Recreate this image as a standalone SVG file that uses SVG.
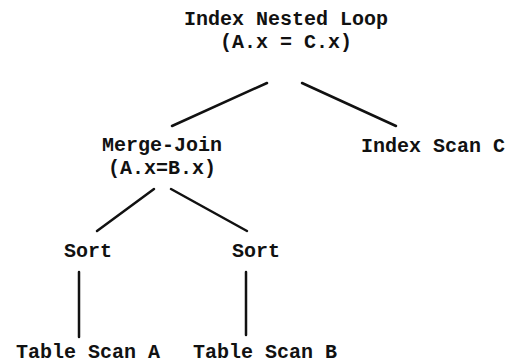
<svg xmlns="http://www.w3.org/2000/svg" width="532" height="364" viewBox="0 0 532 364">
<style>
text{font-family:"Liberation Mono","Courier New",monospace;font-size:20px;font-weight:bold;fill:#111;text-anchor:middle}
.c line{stroke:#111;stroke-width:2.5;stroke-linecap:round}
</style>
<rect width="532" height="364" fill="#fff"/>
<g class="c" id="connectors">
<line x1="267" y1="83" x2="172" y2="126"/>
<line x1="302" y1="83" x2="396" y2="126"/>
<line x1="154" y1="189" x2="97" y2="231"/>
<line x1="171" y1="189" x2="247" y2="231"/>
<line x1="79" y1="272" x2="79" y2="337"/>
<line x1="246" y1="272" x2="246" y2="335"/>
</g>
<g id="inl"><text x="286" y="25">Index Nested Loop</text><text x="286" y="48">(A.x = C.x)</text></g>
<g id="mj"><text x="162" y="151">Merge-Join</text><text x="162" y="174">(A.x=B.x)</text></g>
<g id="isc"><text x="433" y="152">Index Scan C</text></g>
<g id="sort1"><text x="88" y="257">Sort</text></g>
<g id="sort2"><text x="256" y="257">Sort</text></g>
<g id="tsa"><text x="88" y="358">Table Scan A</text></g>
<g id="tsb"><text x="265" y="358">Table Scan B</text></g>
</svg>
